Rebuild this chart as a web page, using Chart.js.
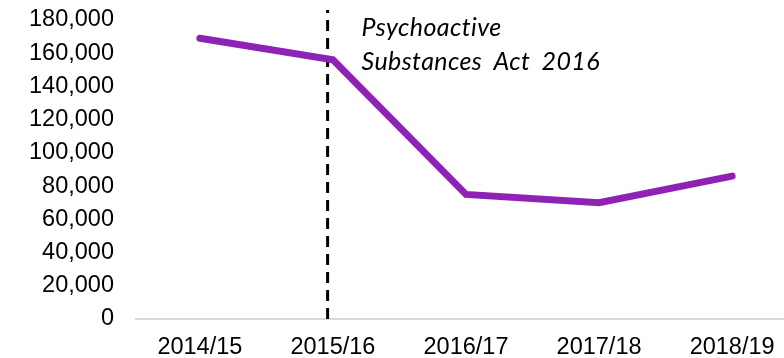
<!DOCTYPE html>
<html>
<head>
<meta charset="utf-8">
<script src="https://cdn.jsdelivr.net/npm/chart.js@4/dist/chart.umd.min.js"></script>
<style>
  html, body { margin: 0; padding: 0; background: #fff; }
  #wrap { width: 784px; height: 358px; }
</style>
</head>
<body>
<div id="wrap"><canvas id="chart"></canvas></div>
<script>
// financial years and values
var years = ['2014/15', '2015/16', '2016/17', '2017/18', '2018/19'];
var seizures = [169000, 156000, 75000, 70000, 86000];
// event marker (position between categories) and its label
var eventAt = 0.96;
var eventTop = 186000;
var eventText = ['Psychoactive', 'Substances Act 2016'];

var points = years.map(function (y, i) { return { x: i, y: seizures[i] }; });

// annotation text next to the dashed line
var noteLabel = {
  id: 'noteLabel',
  afterDatasetsDraw: function (chart) {
    var ctx = chart.ctx;
    var x = chart.scales.x.getPixelForValue(eventAt) + 34;
    ctx.save();
    ctx.font = 'italic 25px Lato, sans-serif';
    ctx.fillStyle = '#000';
    ctx.textBaseline = 'middle';
    if ('letterSpacing' in ctx) ctx.letterSpacing = '0.4px';
    if ('wordSpacing' in ctx) ctx.wordSpacing = '5px';
    ctx.fillText(eventText[0], x, 28);
    ctx.fillText(eventText[1], x, 62);
    ctx.restore();
  }
};

var tickFont = { family: '"Liberation Sans", Arial, sans-serif', size: 23.5 };

var ctx = document.getElementById('chart');
new Chart(ctx, {
  type: 'line',
  data: {
    datasets: [{
      data: points,
      borderColor: '#8E22B5',
      borderWidth: 7,
      borderCapStyle: 'round',
      pointRadius: 0,
      tension: 0
    }, {
      data: [{ x: eventAt, y: 0 }, { x: eventAt, y: eventTop }],
      borderColor: '#000',
      borderWidth: 3,
      borderDash: [11, 7],
      pointRadius: 0,
      clip: false
    }]
  },
  options: {
    responsive: true,
    maintainAspectRatio: false,
    animation: false,
    layout: { padding: { top: 20, right: 0, left: 0, bottom: 0 } },
    plugins: { legend: { display: false }, tooltip: { enabled: false } },
    scales: {
      x: {
        type: 'linear',
        min: -0.48,
        max: 4.39,
        afterFit: function (s) { s.height = 39; s.paddingLeft = 0; s.paddingRight = 0; },
        afterBuildTicks: function (s) {
          s.ticks = years.map(function (y, i) { return { value: i }; });
        },
        ticks: {
          padding: 6,
          color: '#000',
          maxRotation: 0,
          font: tickFont,
          callback: function (v) { return years[v]; }
        },
        grid: { display: false },
        border: { display: true, color: '#d9d9d9', width: 2 }
      },
      y: {
        min: 0,
        max: 180000,
        afterFit: function (s) { s.width = 136; s.paddingTop = 0; s.paddingBottom = 0; },
        ticks: {
          stepSize: 20000,
          padding: 14,
          color: '#000',
          font: tickFont,
          callback: function (v) { return v.toLocaleString('en-US'); }
        },
        grid: { display: false },
        border: { display: false }
      }
    }
  },
  plugins: [noteLabel]
});
</script>
</body>
</html>
